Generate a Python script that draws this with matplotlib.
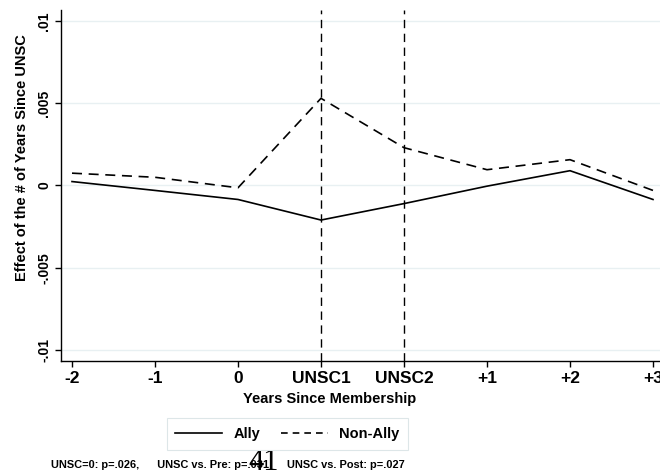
import matplotlib
matplotlib.use('Agg')
import matplotlib.pyplot as plt
from matplotlib.lines import Line2D

plt.rcParams['font.family'] = ['Liberation Sans', 'DejaVu Sans']
plt.rcParams['font.weight'] = 'bold'

# data
periods = ['-2', '-1', '0', 'UNSC1', 'UNSC2', '+1', '+2', '+3']
ally = [0.00024, -0.0003, -0.00085, -0.0021, -0.0011, -0.00004, 0.0009, -0.00085]
non_ally = [0.00075, 0.0005, -0.00014, 0.0053, 0.0023, 0.00096, 0.00157, -0.0003]
y_ticks = [-0.01, -0.005, 0, 0.005, 0.01]
y_tick_labels = ['-.01', '-.005', '0', '.005', '.01']
unsc_marks = ['UNSC1', 'UNSC2']
footnote = 'UNSC=0: p=.026,      UNSC vs. Pre: p=.031      UNSC vs. Post: p=.027'

fig = plt.figure(figsize=(6.6, 4.76), dpi=100)
ax = fig.add_axes([61 / 660, 1 - 361 / 476, 603 / 660, 351 / 476])

x = list(range(len(periods)))

for yv in y_ticks:
    ax.axhline(yv, color='#e8f0f2', lw=1, zorder=0)

for m in unsc_marks:
    ax.axvline(periods.index(m), color='black', lw=1, ls=(0, (6, 4)), zorder=1)

ax.plot(x, ally, color='black', lw=1.2, zorder=3)
ax.plot(x, non_ally, color='black', lw=1.2, ls=(0, (6, 4)), zorder=3)

ax.set_xlim(-11 / 83, 7 + 11 / 83)
ax.set_ylim(-0.01067, 0.01067)

ax.set_xticks(x)
ax.set_xticklabels(periods, fontsize=12.5, fontweight='bold')
ax.set_yticks(y_ticks)
ax.set_yticklabels(y_tick_labels, fontsize=10, fontweight='bold',
                   rotation=90, va='center')
ax.tick_params(axis='both', direction='out', length=4, width=1, pad=3)

ax.spines['top'].set_visible(False)
ax.spines['right'].set_visible(False)
ax.spines['left'].set_linewidth(1)
ax.spines['bottom'].set_linewidth(1)

ax.set_xlabel('Years Since Membership', fontsize=10.5, fontweight='bold')
ax.set_ylabel('Effect of the # of Years Since UNSC', fontsize=10.5, fontweight='bold')
ax.xaxis.set_label_coords((330 - 61) / 603, -(392 - 361) / 351)
ax.yaxis.set_label_coords(-(61 - 29) / 603, (361 - 158) / 351)

handles = [Line2D([], [], color='black', lw=1.2),
           Line2D([], [], color='black', lw=1.2, ls=(0, (4, 3)))]
leg = fig.legend(handles, ['Ally', 'Non-Ally'], ncol=2, loc='center',
                 bbox_to_anchor=(287.5 / 660, 1 - 434 / 476),
                 fontsize=10.5, handlelength=3.2, columnspacing=1.4,
                 fancybox=False, edgecolor='#dde6e8', framealpha=1,
                 borderpad=0.6)
leg.get_frame().set_linewidth(0.8)

fig.text(51 / 660, 1 - 465 / 476, footnote, fontsize=7.9, fontweight='bold',
         va='center', ha='left')
fig.text(264 / 660, 1 - 462 / 476, '41', fontsize=22, fontweight='normal',
         family=['Liberation Serif', 'DejaVu Serif'], ha='center', va='center')

fig.savefig('out.png', dpi=100)
